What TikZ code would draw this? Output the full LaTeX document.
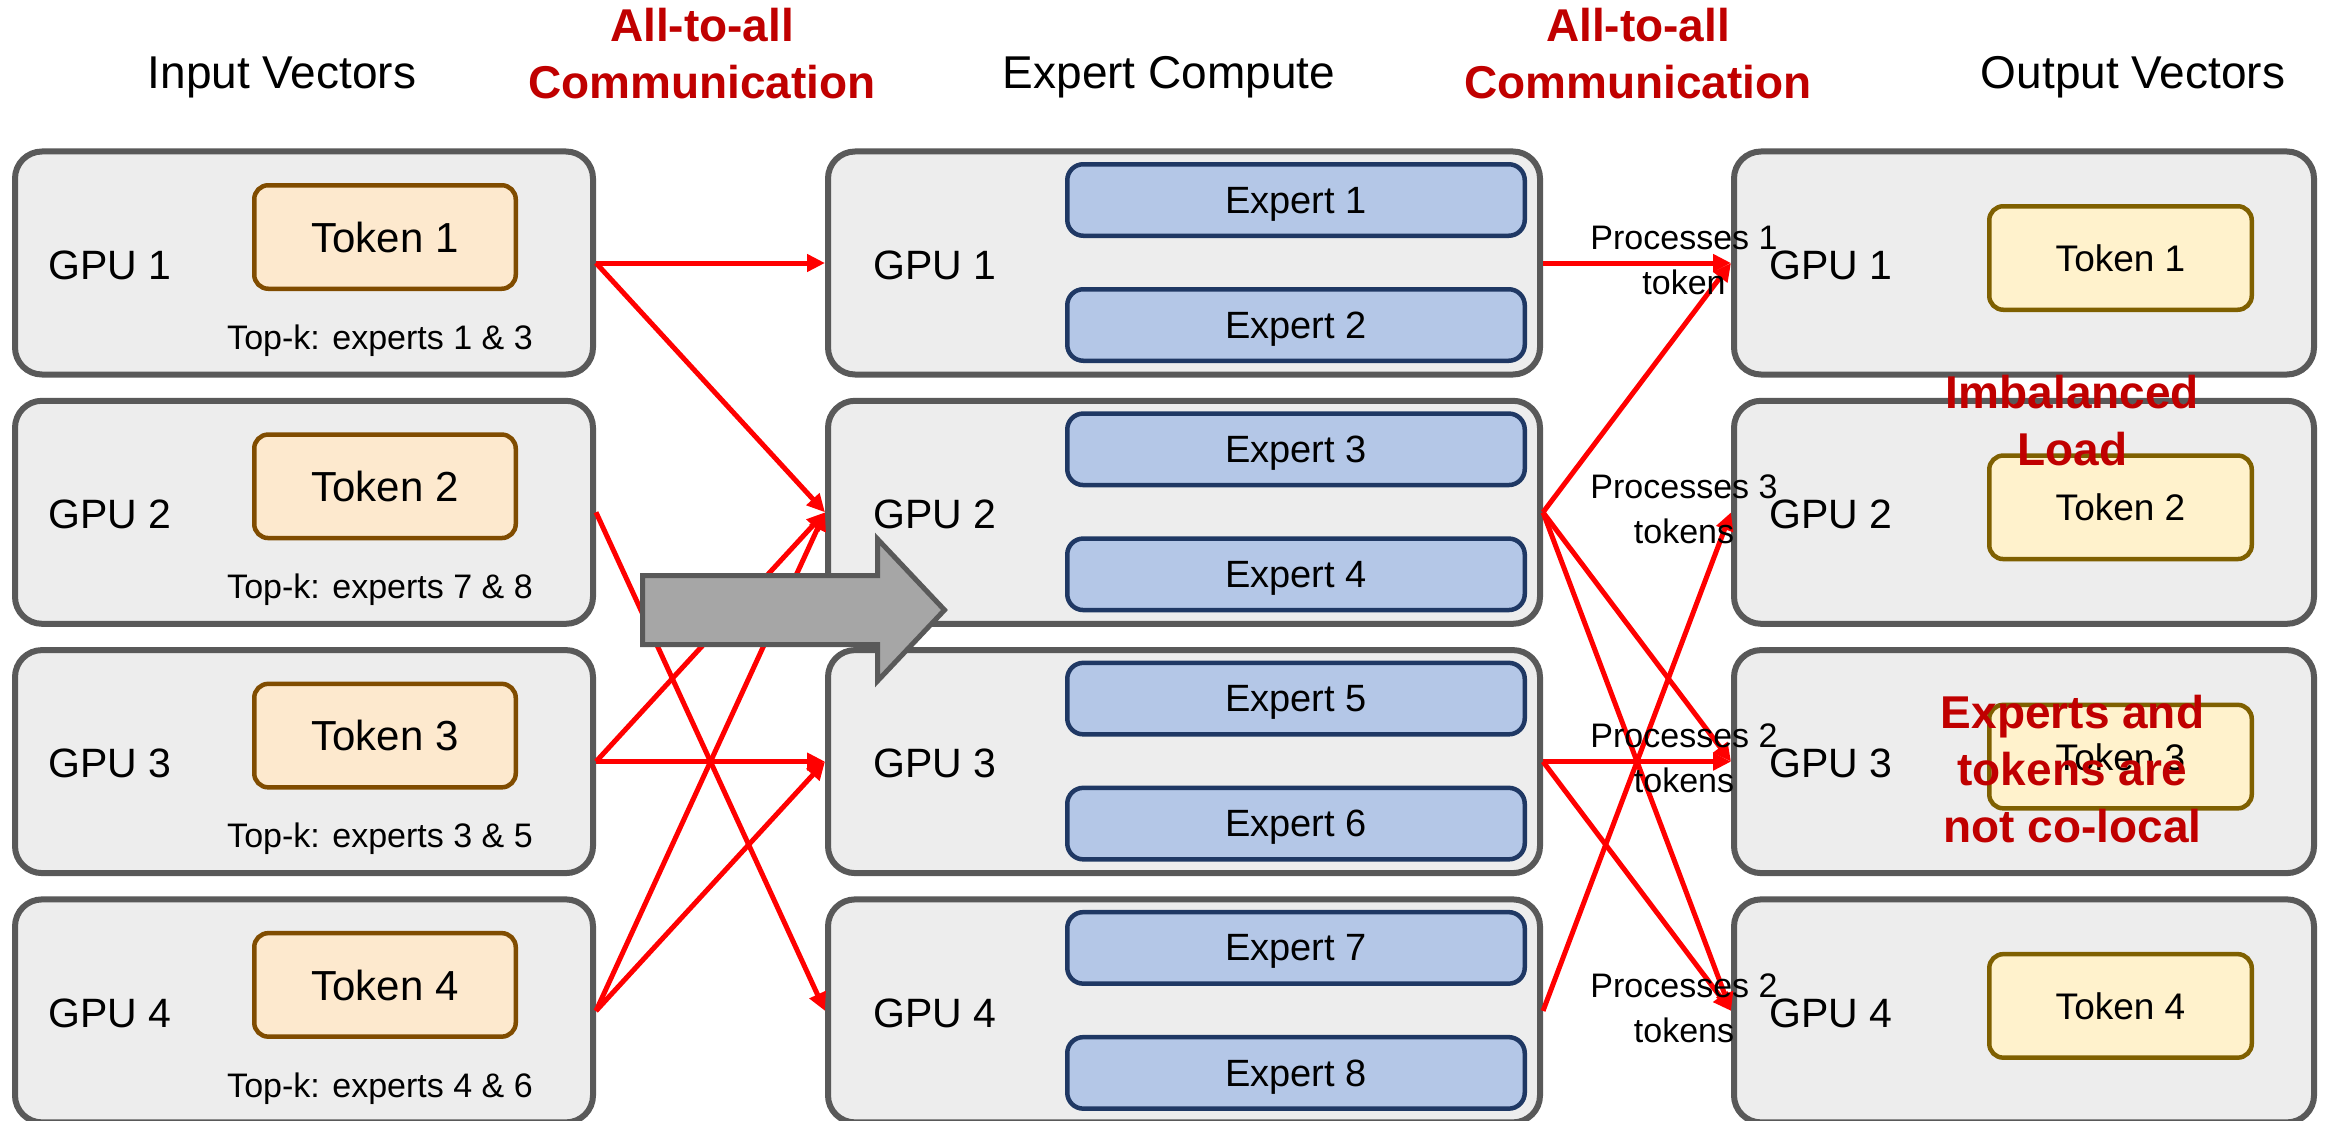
\documentclass[tikz,border=0pt]{standalone}
\usepackage{fontspec}
\setmainfont{Liberation Sans}
\usetikzlibrary{arrows.meta}

\definecolor{gpufill}{HTML}{EDEDED}
\definecolor{gpuline}{HTML}{595959}
\definecolor{intokfill}{HTML}{FDE9CE}
\definecolor{intokline}{HTML}{804C00}
\definecolor{outtokfill}{HTML}{FFF2CC}
\definecolor{outtokline}{HTML}{7F6000}
\definecolor{expfill}{HTML}{B4C7E7}
\definecolor{expline}{HTML}{1F3864}
\definecolor{alertred}{HTML}{C00000}
\definecolor{shiftfill}{HTML}{A6A6A6}

\newcommand{\pxfont}[2]{\fontsize{#1pt}{#2pt}\selectfont}

\begin{document}
\begin{tikzpicture}[x=1pt,y=-1pt,
  gpubox/.style={draw=gpuline,fill=gpufill,line width=6pt,rounded corners=27pt,inner sep=0pt},
  leftgpu/.style={gpubox,minimum width=578pt,minimum height=223pt},
  midgpu/.style={gpubox,minimum width=712pt,minimum height=223pt},
  rightgpu/.style={gpubox,minimum width=580pt,minimum height=223pt},
  intoken/.style={draw=intokline,fill=intokfill,line width=4.5pt,rounded corners=14pt,
    minimum width=261.5pt,minimum height=103.5pt,inner sep=0pt,text depth=0pt,font=\pxfont{42}{50}},
  outtoken/.style={draw=outtokline,fill=outtokfill,line width=4.5pt,rounded corners=14pt,
    minimum width=262.5pt,minimum height=103.5pt,inner sep=0pt,text depth=0pt,font=\pxfont{37}{45}},
  expert/.style={draw=expline,fill=expfill,line width=4.5pt,rounded corners=16pt,
    minimum width=457.5pt,minimum height=71.5pt,inner sep=0pt,text depth=0pt,font=\pxfont{38}{46}},
  gpulabel/.style={anchor=west,inner sep=0pt,font=\pxfont{41}{49}},
  heading/.style={anchor=base,inner sep=0pt,font=\pxfont{46}{56}},
  alert/.style={align=center,inner sep=0pt,text=alertred,font=\bfseries\pxfont{46}{57}},
  topk/.style={inner sep=0pt,text depth=0pt,font=\pxfont{34}{42}},
  load/.style={align=center,inner sep=0pt,font=\pxfont{34}{45}},
  route/.style={draw=red,line width=5pt,-{Triangle[length=18pt,width=17pt]}},
]
\path[use as bounding box,fill=white] (0,0) rectangle (2326,1121);

% column headings
\node[heading] (hin)  at (282,89)  {Input Vectors};
\node[heading] (hexp) at (1169,89) {Expert Compute};
\node[heading] (hout) at (2133,89) {Output Vectors};
\node[alert] (a2a1) at (702,54)  {All-to-all\\Communication};
\node[alert] (a2a2) at (1638,54) {All-to-all\\Communication};

% one row per GPU: input side, expert side, output side
\foreach \i/\y/\ea/\eb/\tk in {1/263/1/2/1 \& 3, 2/512.3/3/4/7 \& 8, 3/761.6/5/6/3 \& 5, 4/1010.9/7/8/4 \& 6}{
  \node[leftgpu]  (L\i) at (304,\y) {};
  \node[midgpu]   (M\i) at (1184,\y) {};
  \node[rightgpu] (R\i) at (2024,\y) {};
  \node[gpulabel] (lg\i) at (48,\y+2)   {GPU \i};
  \node[gpulabel] (mg\i) at (873,\y+2)  {GPU \i};
  \node[gpulabel] (rg\i) at (1769,\y+2) {GPU \i};
  \node[intoken]  (T\i) at (385,\y-26) {Token \i};
  \node[topk]     (k\i) at (380,\y+74) {Top-k: experts \tk};
  \node[expert]   (E\ea) at (1296,\y-63) {Expert \ea};
  \node[expert]   (E\eb) at (1296,\y+62) {Expert \eb};
  \node[outtoken] (O\i) at (2120.5,\y-5) {Token \i};
}

% dispatch: tokens to the GPUs holding their top-k experts
\draw[route] (L1.east) -- (M1.west);
\draw[route] (L1.east) -- (M2.west);
\draw[route] (L2.east) -- (M4.west);
\draw[route] (L3.east) -- (M2.west);
\draw[route] (L3.east) -- (M3.west);
\draw[route] (L4.east) -- (M2.west);
\draw[route] (L4.east) -- (M3.west);

% combine: expert outputs back to the token owners
\draw[route] (M1.east) -- (R1.west);
\draw[route] (M2.east) -- (R1.west);
\draw[route] (M2.east) -- (R3.west);
\draw[route] (M2.east) -- (R4.west);
\draw[route] (M3.east) -- (R3.west);
\draw[route] (M3.east) -- (R4.west);
\draw[route] (M4.east) -- (R2.west);

% per-GPU load
\node[load] (p1) at (1684,260)   {Processes 1\\token};
\node[load] (p2) at (1684,509.3) {Processes 3\\tokens};
\node[load] (p3) at (1684,758.6) {Processes 2\\tokens};
\node[load] (p4) at (1684,1007.9) {Processes 2\\tokens};

% block arrow across the dispatch stage
\draw[draw=gpuline,fill=shiftfill,line width=5pt]
  (642.5,575.5) -- (877.5,575.5) -- (877.5,539) -- (944.5,610)
  -- (877.5,681) -- (877.5,644.5) -- (642.5,644.5) -- cycle;

% call-outs
\node[alert] (imb) at (2072.5,421)   {Imbalanced\\Load};
\node[alert] (coloc) at (2072.5,769.5) {Experts and\\tokens are\\not co-local};
\end{tikzpicture}
\end{document}
